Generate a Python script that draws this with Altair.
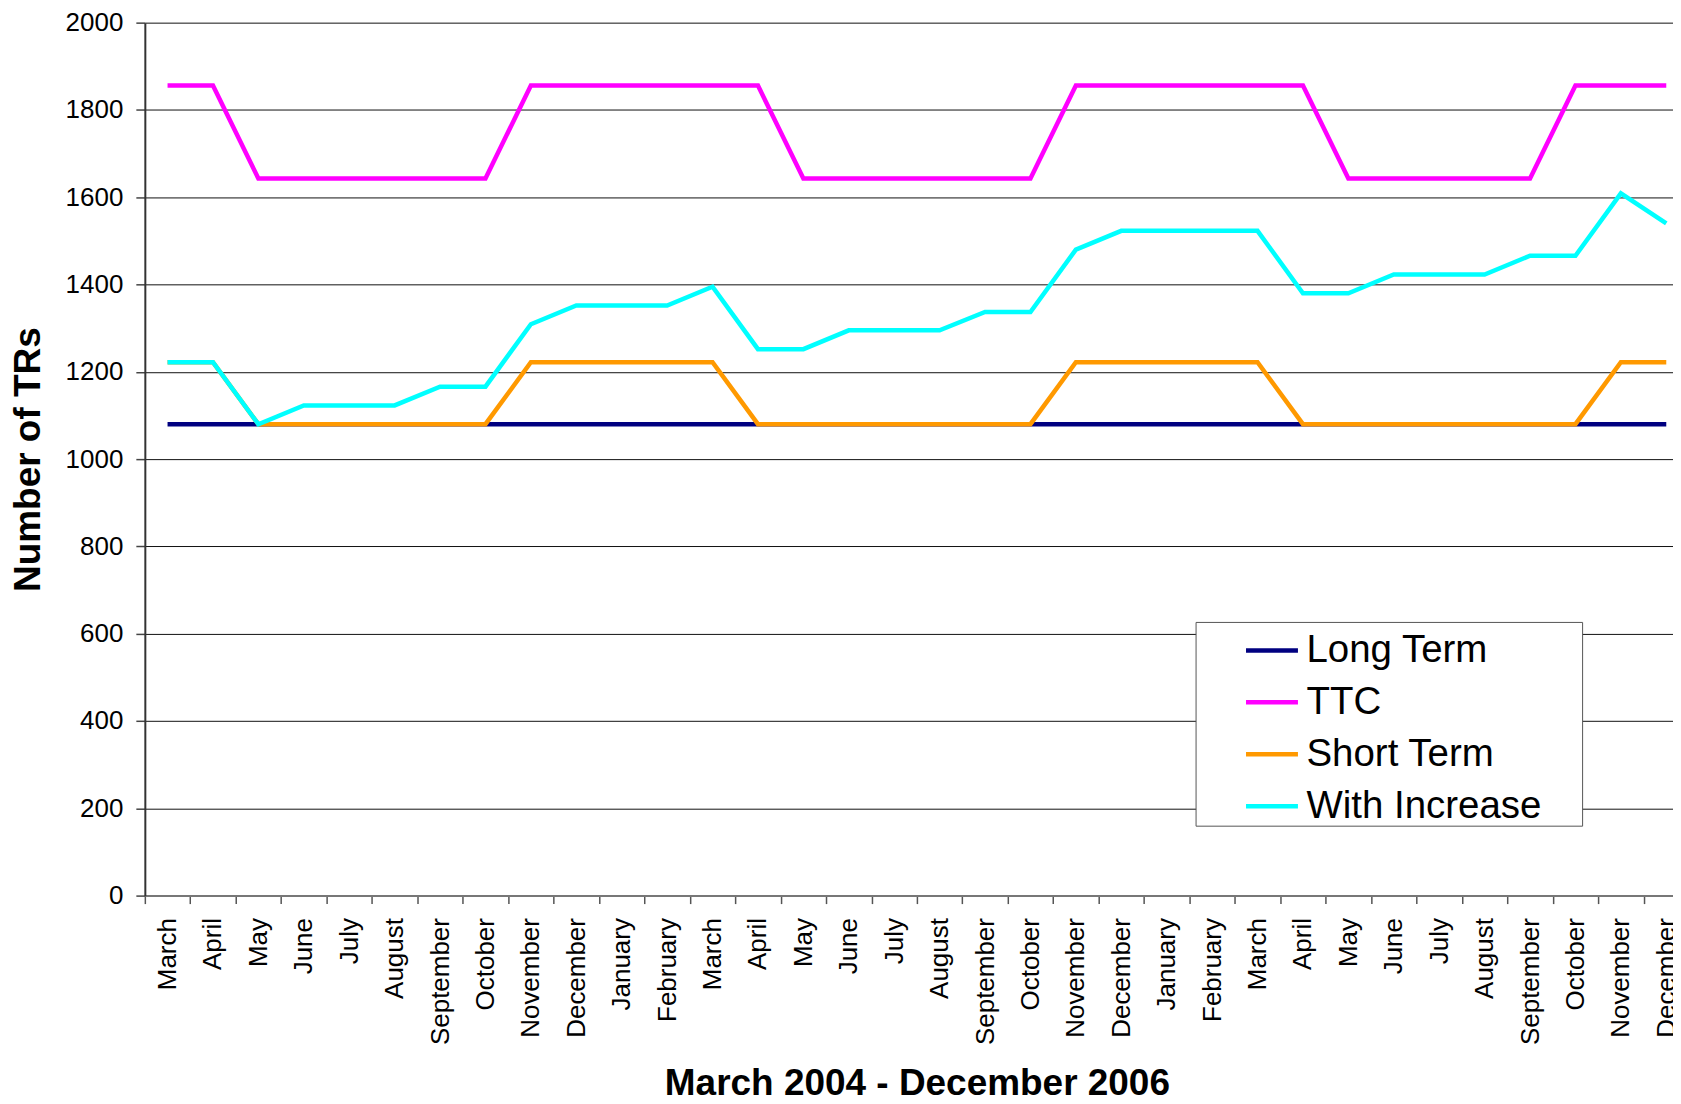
import altair as alt
import pandas as pd

months = ["March", "April", "May", "June", "July", "August", "September", "October", "November", "December",
          "January", "February", "March", "April", "May", "June", "July", "August", "September", "October",
          "November", "December",
          "January", "February", "March", "April", "May", "June", "July", "August", "September", "October",
          "November", "December"]
years = [2004] * 10 + [2005] * 12 + [2006] * 12
keys = [f"{m} {y}" for m, y in zip(months, years)]

series_names = ["Long Term", "TTC", "Short Term", "With Increase"]
series_colors = ["#000080", "#FF00FF", "#FF9900", "#00FFFF"]

long_term = [1080] * 34
ttc = [1856, 1856, 1643, 1643, 1643, 1643, 1643, 1643, 1856, 1856, 1856, 1856, 1856, 1856,
       1643, 1643, 1643, 1643, 1643, 1643, 1856, 1856, 1856, 1856, 1856, 1856,
       1643, 1643, 1643, 1643, 1643, 1856, 1856, 1856]
short_term = [1222, 1222, 1080, 1080, 1080, 1080, 1080, 1080, 1222, 1222, 1222, 1222, 1222,
              1080, 1080, 1080, 1080, 1080, 1080, 1080, 1222, 1222, 1222, 1222, 1222,
              1080, 1080, 1080, 1080, 1080, 1080, 1080, 1222, 1222]
with_increase = [1222, 1222, 1080, 1123, 1123, 1123, 1166, 1166, 1309, 1352, 1352, 1352, 1395,
                 1252, 1252, 1295, 1295, 1295, 1337, 1337, 1480, 1523, 1523, 1523, 1523,
                 1380, 1380, 1423, 1423, 1423, 1466, 1466, 1609, 1540]
y_ticks = list(range(0, 2001, 200))

rows = []
for name, vals in zip(series_names, [long_term, ttc, short_term, with_increase]):
    for k, v in zip(keys, vals):
        rows.append({"month": k, "series": name, "value": v})
df = pd.DataFrame(rows)

FONT = "Liberation Sans"

x_enc = alt.X(
    "month:N", sort=keys,
    scale=alt.Scale(range=[0, 1546], paddingInner=0, paddingOuter=0),
    axis=alt.Axis(
        title="March 2004 - December 2006", titleFont=FONT, titleFontSize=37,
        titleFontWeight="bold", titleColor="black", titleY=199, titleBaseline="alphabetic",
        labelAngle=270, labelFont=FONT, labelFontSize=26, labelColor="black",
        labelPadding=14, labelOverlap=False,
        labelExpr="isValid(datum.value) ? split(datum.value, ' ')[0] : ''",
        tickSize=8, tickBand="extent", tickColor="#555", tickWidth=1.5,
        domainColor="#777", domainWidth=2, grid=False,
    ),
)
y_enc = alt.Y(
    "value:Q",
    scale=alt.Scale(domain=[0, 2000], nice=False),
    axis=alt.Axis(
        values=y_ticks, format="d", title="Number of TRs", titleFont=FONT, titleFontSize=37,
        titleFontWeight="bold", titleColor="black", titleX=-116, titleBaseline="middle",
        labelFont=FONT, labelFontSize=26, labelColor="black", labelPadding=13,
        tickSize=9, tickColor="#444", tickWidth=1.5, domainColor="#333", domainWidth=2,
        grid=True, gridColor="#111", gridWidth=1,
    ),
)
legend = alt.Legend(
    title=None, orient="none", legendX=1052, legendY=600, direction="vertical",
    padding=0, symbolType="stroke", symbolSize=2704, symbolStrokeWidth=4.5, symbolOffset=48,
    labelFont=FONT, labelFontSize=38.5, labelColor="black", labelOffset=6, labelLimit=600,
    rowPadding=4, fillColor="white", strokeColor="#555",
    labelExpr="datum.label + '\u00a0\u2800'",
)
color_enc = alt.Color("series:N", scale=alt.Scale(domain=series_names, range=series_colors), legend=legend)

layers = [
    alt.Chart(df).transform_filter(alt.datum.series == s)
    .mark_line(strokeWidth=4.5)
    .encode(x=x_enc, y=y_enc, color=color_enc)
    for s in series_names
]

chart = alt.layer(*layers).properties(
    width=1530, height=874,
    padding={"left": 137, "top": 14, "right": 0, "bottom": 215},
    autosize=alt.AutoSizeParams(type="none"),
).configure_view(strokeWidth=0)

chart.save("out.html", embed_options={"renderer": "svg", "actions": False})
